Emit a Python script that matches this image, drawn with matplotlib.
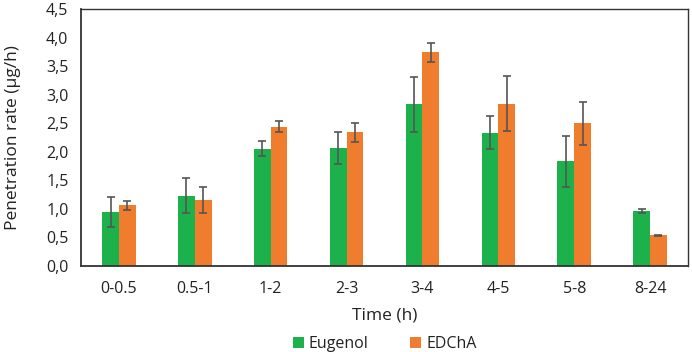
import matplotlib
matplotlib.use("Agg")
import matplotlib.pyplot as plt
import numpy as np

plt.rcParams['font.family'] = ['Open Sans', 'DejaVu Sans']

categories = ["0-0.5", "0.5-1", "1-2", "2-3", "3-4", "4-5", "5-8", "8-24"]
eugenol = [0.95, 1.23, 2.05, 2.06, 2.83, 2.33, 1.83, 0.96]
eugenol_err = [0.26, 0.31, 0.13, 0.28, 0.48, 0.29, 0.45, 0.03]
edcha = [1.06, 1.15, 2.44, 2.34, 3.74, 2.84, 2.50, 0.54]
edcha_err = [0.08, 0.23, 0.10, 0.17, 0.16, 0.48, 0.38, 0.01]
yticks = [0.0, 0.5, 1.0, 1.5, 2.0, 2.5, 3.0, 3.5, 4.0, 4.5]

fig = plt.figure(figsize=(6.92, 3.52), dpi=100)
ax = fig.add_axes([81/692, 1-266/352, 607/692, 257/352])

x = np.arange(len(categories))
w = 0.22
green = "#1DB14B"
orange = "#F07D2E"
ekw = dict(ecolor="#555555", elinewidth=1.2, capsize=3, capthick=1.2)
ax.bar(x - w/2, eugenol, w, color=green, yerr=eugenol_err, error_kw=ekw, label="Eugenol")
ax.bar(x + w/2, edcha, w, color=orange, yerr=edcha_err, error_kw=ekw, label="EDChA")

ax.set_xlim(-0.5, len(categories) - 0.5)
ax.set_ylim(0, 4.5)
ax.set_yticks(yticks)
ax.set_yticklabels([f"{v:.1f}".replace(".", ",") for v in yticks], fontsize=11.5, color="#222222")
ax.set_xticks(x)
ax.set_xticklabels(categories, fontsize=11.5, color="#222222")
ax.tick_params(axis='x', length=0, pad=11)
ax.tick_params(axis='y', length=0, pad=9)
for s in ax.spines.values():
    s.set_color("#333333")
    s.set_linewidth(1.0)
ax.spines['bottom'].set_linewidth(1.3)
ax.spines['left'].set_linewidth(1.3)

ax.set_ylabel("Penetration rate (µg/h)", fontsize=12.5, color="#222222", labelpad=18)
ax.set_xlabel("Time (h)", fontsize=12.5, color="#222222", labelpad=7)

leg = fig.legend(loc="lower center", bbox_to_anchor=(0.556, -0.04), ncol=2, frameon=False,
                 fontsize=11.5, handlelength=0.7, handleheight=0.7, handletextpad=0.3,
                 columnspacing=2.6)
for t in leg.get_texts():
    t.set_color("#222222")

fig.savefig("out.png", dpi=100)
